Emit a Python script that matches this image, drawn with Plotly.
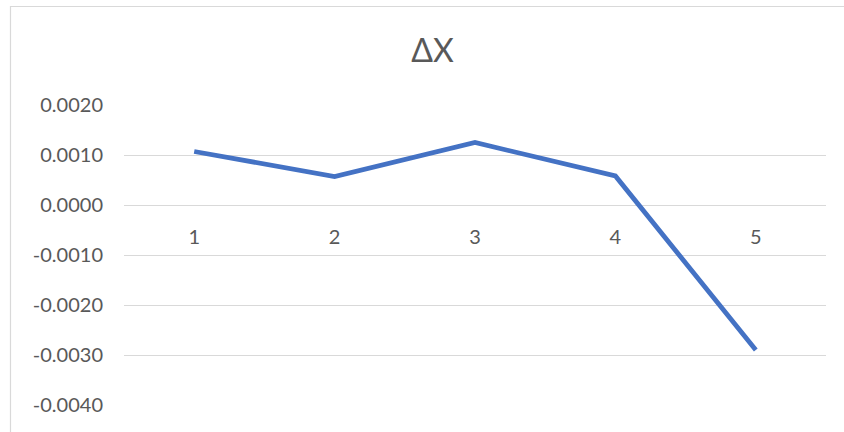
import plotly.graph_objects as go

categories = ["1", "2", "3", "4", "5"]
values = [0.00107, 0.00057, 0.00125, 0.00058, -0.0029]
y_tick_vals = [-0.004, -0.003, -0.002, -0.001, 0.0, 0.001, 0.002]
y_tick_text = ["-0.0040", "-0.0030", "-0.0020", "-0.0010", "0.0000", "0.0010", "0.0020"]
title_text = "ΔX"

W, H = 844, 432
ML, MR, MT, MB = 124, 18, 105, 27
ymin, ymax = -0.004, 0.002
pw, ph = W - ML - MR, H - MT - MB

fig = go.Figure()
fig.add_trace(go.Scatter(
    x=categories, y=values, mode="lines",
    line=dict(color="#4472C4", width=4.8),
    hoverinfo="skip", showlegend=False,
))

font_family = "Lato, 'Noto Sans', sans-serif"
grid = "#d9d9d9"

fig.update_layout(
    width=W, height=H,
    margin=dict(l=ML, r=MR, t=MT, b=MB, pad=0),
    paper_bgcolor="white", plot_bgcolor="white",
    title=dict(text=title_text, x=432.5 / W, xanchor="center",
               y=1 - 51 / H, yanchor="middle", yref="container",
               font=dict(family=font_family, size=32, color="#595959")),
    font=dict(family=font_family, size=20, color="#595959"),
    xaxis=dict(
        type="category", range=[-0.5, 4.5],
        anchor="free", position=(0 - ymin) / (ymax - ymin),
        showgrid=False, showline=False, zeroline=False,
        ticks="", ticklabelstandoff=18,
        tickfont=dict(family=font_family, size=20, color="#595959"),
    ),
    yaxis=dict(
        range=[ymin, ymax], tickvals=y_tick_vals, ticktext=y_tick_text,
        showgrid=True, gridcolor=grid, gridwidth=1,
        zeroline=True, zerolinecolor=grid, zerolinewidth=1,
        showline=False, ticks="", ticklabelstandoff=20,
        tickfont=dict(family=font_family, size=20, color="#595959"),
    ),
)

# chart area border (left and top edges visible in the reference)
fig.add_shape(type="rect", xref="paper", yref="paper",
              x0=(10.5 - ML) / pw, x1=(W + 20 - ML) / pw,
              y0=(MT + ph - (H + 20)) / ph, y1=(MT + ph - 6.5) / ph,
              line=dict(color=grid, width=1.2), fillcolor="rgba(0,0,0,0)", layer="below")

fig.write_html("out.html")
